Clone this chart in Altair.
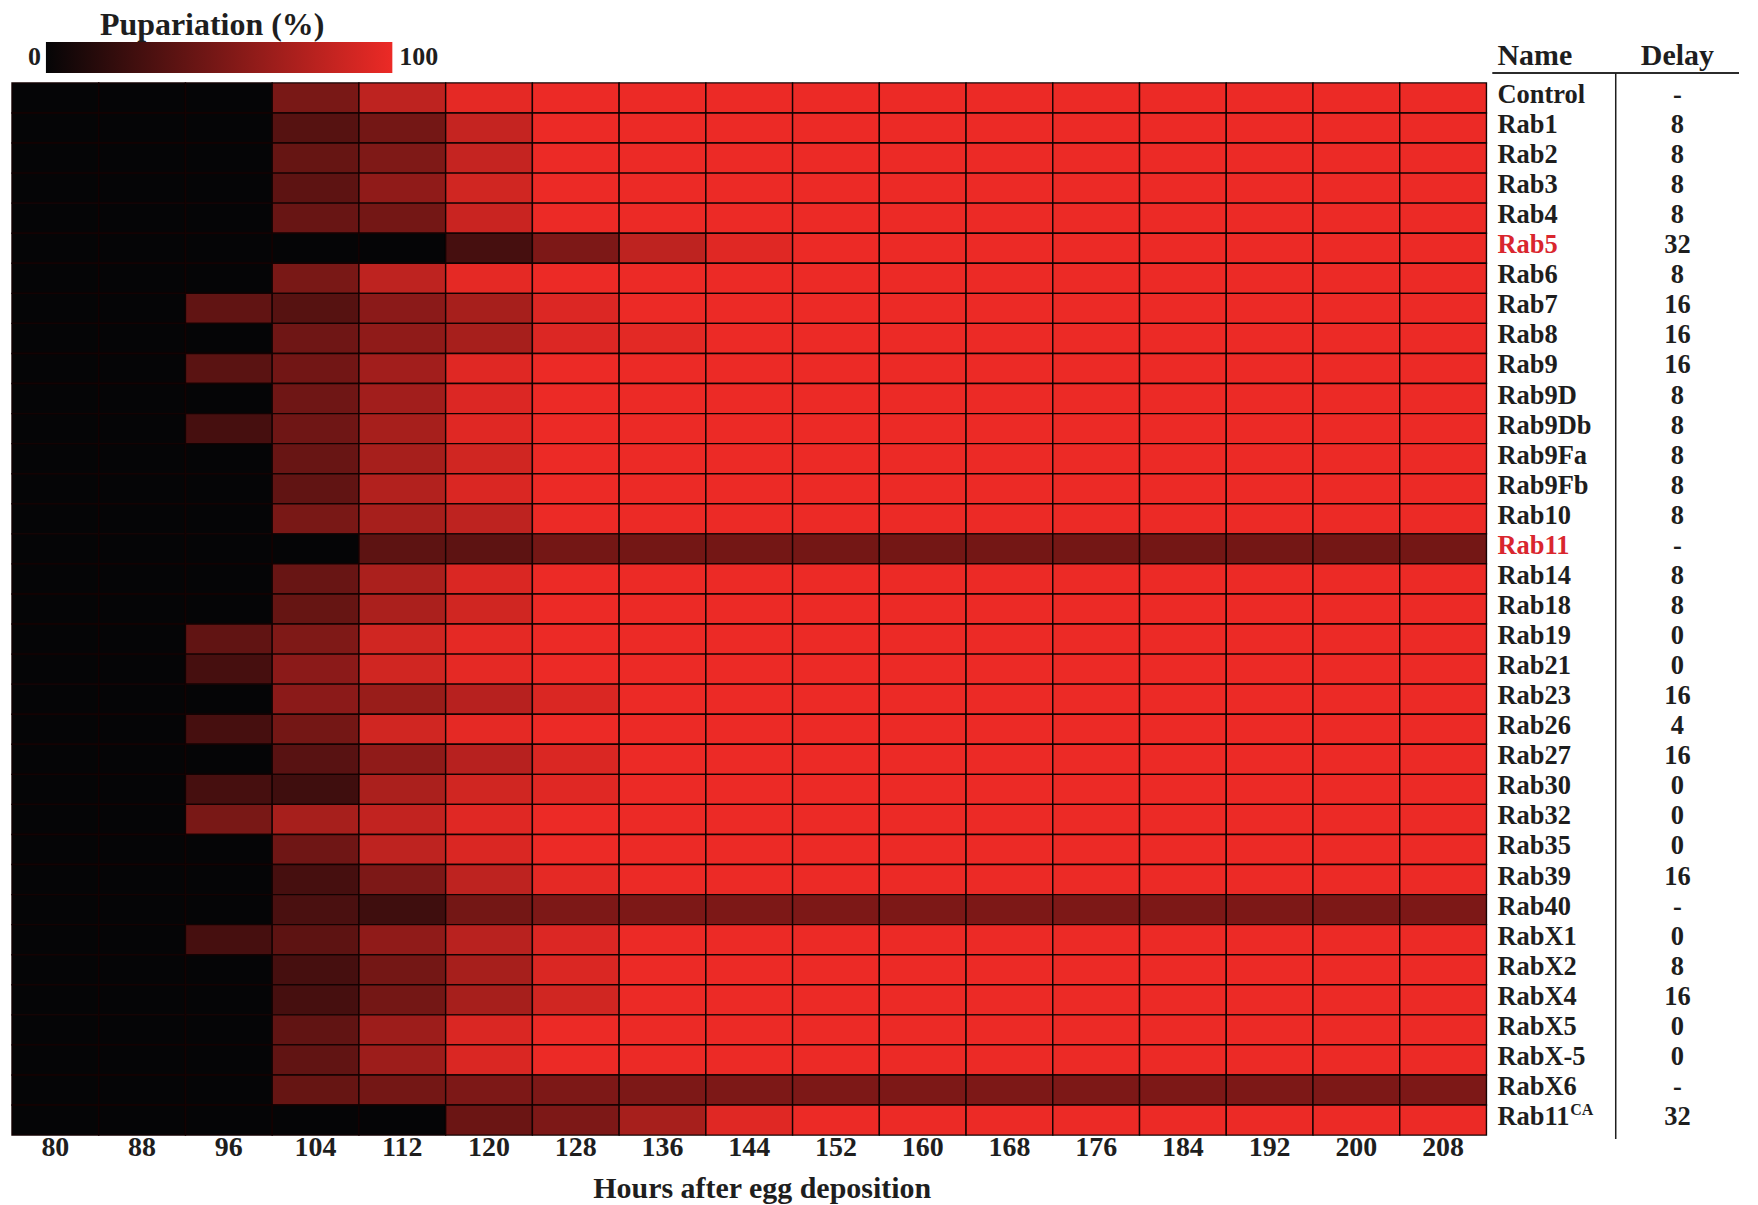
import altair as alt
import pandas as pd

# ---------------- data ----------------
hours = [80, 88, 96, 104, 112, 120, 128, 136, 144, 152, 160, 168, 176, 184, 192, 200, 208]

names = ["Control", "Rab1", "Rab2", "Rab3", "Rab4", "Rab5", "Rab6", "Rab7", "Rab8", "Rab9",
         "Rab9D", "Rab9Db", "Rab9Fa", "Rab9Fb", "Rab10", "Rab11", "Rab14", "Rab18", "Rab19",
         "Rab21", "Rab23", "Rab26", "Rab27", "Rab30", "Rab32", "Rab35", "Rab39", "Rab40",
         "RabX1", "RabX2", "RabX4", "RabX5", "RabX-5", "RabX6", "Rab11CA"]

delays = ["-", "8", "8", "8", "8", "32", "8", "16", "16", "16",
          "8", "8", "8", "8", "8", "-", "8", "8", "0",
          "0", "16", "4", "16", "0", "0", "0", "16", "-",
          "0", "8", "16", "0", "0", "-", "32"]

highlighted = ["Rab5", "Rab11"]
superscripts = {"Rab11CA": ("Rab11", "CA")}

# pupariation (%) per row, one value per hour column
values = [
    [0, 0, 0, 50, 80, 97, 100, 100, 100, 100, 100, 100, 100, 100, 100, 100, 100],  # Control
    [0, 0, 0, 35, 48, 83, 100, 100, 100, 100, 100, 100, 100, 100, 100, 100, 100],  # Rab1
    [0, 0, 0, 42, 53, 83, 100, 100, 100, 100, 100, 100, 100, 100, 100, 100, 100],  # Rab2
    [0, 0, 0, 38, 60, 88, 100, 100, 100, 100, 100, 100, 100, 100, 100, 100, 100],  # Rab3
    [0, 0, 0, 43, 48, 85, 100, 100, 100, 100, 100, 100, 100, 100, 100, 100, 100],  # Rab4
    [0, 0, 0, 0, 0, 28, 52, 80, 95, 100, 100, 100, 100, 100, 100, 100, 100],       # Rab5
    [0, 0, 0, 50, 80, 97, 100, 100, 100, 100, 100, 100, 100, 100, 100, 100, 100],  # Rab6
    [0, 0, 40, 35, 58, 70, 93, 100, 100, 100, 100, 100, 100, 100, 100, 100, 100],  # Rab7
    [0, 0, 0, 46, 60, 70, 93, 96, 100, 100, 100, 100, 100, 100, 100, 100, 100],    # Rab8
    [0, 0, 37, 47, 68, 95, 100, 100, 100, 100, 100, 100, 100, 100, 100, 100, 100], # Rab9
    [0, 0, 0, 46, 68, 93, 100, 100, 100, 100, 100, 100, 100, 100, 100, 100, 100],  # Rab9D
    [0, 0, 28, 46, 70, 95, 100, 100, 100, 100, 100, 100, 100, 100, 100, 100, 100], # Rab9Db
    [0, 0, 0, 43, 70, 88, 100, 100, 100, 100, 100, 100, 100, 100, 100, 100, 100],  # Rab9Fa
    [0, 0, 0, 40, 75, 92, 100, 100, 100, 100, 100, 100, 100, 100, 100, 100, 100],  # Rab9Fb
    [0, 0, 0, 50, 70, 80, 100, 100, 100, 100, 100, 100, 100, 100, 100, 100, 100],  # Rab10
    [0, 0, 0, 0, 38, 38, 48, 48, 48, 48, 48, 48, 48, 48, 48, 48, 48],              # Rab11
    [0, 0, 0, 43, 72, 92, 100, 100, 100, 100, 100, 100, 100, 100, 100, 100, 100],  # Rab14
    [0, 0, 0, 42, 72, 88, 100, 100, 100, 100, 100, 100, 100, 100, 100, 100, 100],  # Rab18
    [0, 0, 40, 53, 88, 97, 100, 100, 100, 100, 100, 100, 100, 100, 100, 100, 100], # Rab19
    [0, 0, 28, 58, 88, 97, 100, 100, 100, 100, 100, 100, 100, 100, 100, 100, 100], # Rab21
    [0, 0, 0, 58, 64, 77, 92, 100, 100, 100, 100, 100, 100, 100, 100, 100, 100],   # Rab23
    [0, 0, 28, 48, 88, 97, 100, 100, 100, 100, 100, 100, 100, 100, 100, 100, 100], # Rab26
    [0, 0, 0, 36, 60, 77, 92, 100, 100, 100, 100, 100, 100, 100, 100, 100, 100],   # Rab27
    [0, 0, 28, 25, 72, 88, 95, 100, 100, 100, 100, 100, 100, 100, 100, 100, 100],  # Rab30
    [0, 0, 50, 70, 82, 95, 100, 100, 100, 100, 100, 100, 100, 100, 100, 100, 100], # Rab32
    [0, 0, 0, 46, 80, 92, 100, 100, 100, 100, 100, 100, 100, 100, 100, 100, 100],  # Rab35
    [0, 0, 0, 28, 52, 80, 97, 100, 100, 100, 100, 100, 100, 100, 100, 100, 100],   # Rab39
    [0, 0, 0, 30, 25, 48, 52, 52, 52, 52, 52, 52, 52, 52, 52, 52, 52],             # Rab40
    [0, 0, 28, 38, 60, 78, 93, 100, 100, 100, 100, 100, 100, 100, 100, 100, 100],  # RabX1
    [0, 0, 0, 28, 48, 70, 92, 100, 100, 100, 100, 100, 100, 100, 100, 100, 100],   # RabX2
    [0, 0, 0, 28, 48, 70, 88, 100, 100, 100, 100, 100, 100, 100, 100, 100, 100],   # RabX4
    [0, 0, 0, 40, 66, 92, 100, 100, 100, 100, 100, 100, 100, 100, 100, 100, 100],  # RabX5
    [0, 0, 0, 40, 66, 92, 100, 100, 100, 100, 100, 100, 100, 100, 100, 100, 100],  # RabX-5
    [0, 0, 0, 42, 48, 52, 52, 52, 52, 52, 52, 52, 52, 52, 52, 52, 52],             # RabX6
    [0, 0, 0, 0, 0, 44, 52, 70, 95, 100, 100, 100, 100, 100, 100, 100, 100],       # Rab11CA
]

table_cols = ["Name", "Delay"]
legend_ticks = [0, 100]

# ---------------- styles ----------------
F = "Liberation Serif"
TC = "#1e1e1e"
HL = "#d9262e"
C0, C1 = "#050506", "#ec2a26"
ROW_FS = 26.5

# ---------------- frames ----------------
heat_rows = []
for n, vals in zip(names, values):
    for h, v in zip(hours, vals):
        heat_rows.append({"name": n, "hour": h, "value": v})
heat_df = pd.DataFrame(heat_rows)

tbl_rows = []
for n, d in zip(names, delays):
    lab, sup = superscripts.get(n, (n, ""))
    tbl_rows.append({"name": n, "col": "Name", "txt": lab, "sup": sup})
    tbl_rows.append({"name": n, "col": "Delay", "txt": d, "sup": ""})
tbl_df = pd.DataFrame(tbl_rows)
hdr_df = pd.DataFrame({"col": table_cols})

row_range = [10, 1064]

# ---------------- heatmap ----------------
heat = alt.Chart(heat_df).mark_rect(stroke="#140202", strokeWidth=1.4).encode(
    x=alt.X("hour:O", sort=hours,
            scale=alt.Scale(paddingInner=0, paddingOuter=0),
            axis=alt.Axis(orient="bottom", labelAngle=0, ticks=False, tickSize=0, domain=False,
                          labelFont=F, labelFontSize=28, labelFontWeight="bold", labelColor=TC,
                          labelPadding=-2, labelOverlap=False,
                          title="Hours after egg deposition", titleFont=F, titleFontSize=30,
                          titleFontWeight="bold", titleColor=TC, titlePadding=13, titleX=751)),
    y=alt.Y("name:N", sort=names,
            scale=alt.Scale(range=row_range, paddingInner=0, paddingOuter=0), axis=None),
    color=alt.Color("value:Q",
                    scale=alt.Scale(domain=[0, 100], range=[C0, C1], interpolate="rgb"),
                    legend=None),
).properties(width=1477, height=1064)

# ---------------- table ----------------
col_scale = alt.Scale(domain=table_cols, paddingInner=0, paddingOuter=0)
y_tbl = alt.Y("name:N", sort=names,
              scale=alt.Scale(range=row_range, paddingInner=0, paddingOuter=0), axis=None)

name_txt = alt.Chart(tbl_df).transform_filter(alt.datum.col == "Name").mark_text(
    align="left", baseline="middle", dx=5, dy=-3, font=F, fontSize=ROW_FS, fontWeight="bold"
).encode(
    x=alt.X("col:N", bandPosition=0, scale=col_scale, axis=None),
    y=y_tbl,
    text="txt:N",
    color=alt.condition(alt.FieldOneOfPredicate(field="name", oneOf=highlighted),
                        alt.value(HL), alt.value(TC)),
)

sup_txt = alt.Chart(tbl_df).transform_filter(alt.datum.sup != "").mark_text(
    align="left", baseline="middle", dx=78, dy=-10, font=F, fontSize=16, fontWeight="bold", color=TC
).encode(
    x=alt.X("col:N", bandPosition=0, axis=None),
    y=y_tbl,
    text="sup:N",
)

delay_txt = alt.Chart(tbl_df).transform_filter(alt.datum.col == "Delay").mark_text(
    align="center", baseline="middle", dy=-3, font=F, fontSize=ROW_FS, fontWeight="bold", color=TC
).encode(
    x=alt.X("col:N", axis=None),
    y=y_tbl,
    text="txt:N",
)

# column headers sit just above the table frame, on the same column scale
hdr_name = alt.Chart(hdr_df).transform_filter(alt.datum.col == table_cols[0]).mark_text(
    align="left", baseline="alphabetic", dx=5, dy=-8, font=F, fontSize=30, fontWeight="bold", color=TC
).encode(x=alt.X("col:N", bandPosition=0, axis=None), y=alt.value(0), text="col:N")

hdr_delay = alt.Chart(hdr_df).transform_filter(alt.datum.col == table_cols[1]).mark_text(
    align="center", baseline="alphabetic", dy=-8, font=F, fontSize=30, fontWeight="bold", color=TC
).encode(x=alt.X("col:N", axis=None), y=alt.value(0), text="col:N")

hdr_line = alt.Chart(hdr_df).mark_rule(color=TC, strokeWidth=1.5).encode(y=alt.value(0))

divider = alt.Chart(pd.DataFrame({"col": [table_cols[1]]})).mark_rule(
    color=TC, strokeWidth=1.5
).encode(x=alt.X("col:N", bandPosition=0, axis=None))

table = alt.layer(name_txt, sup_txt, delay_txt, hdr_name, hdr_delay, hdr_line, divider).properties(
    width=247, height=1068
)

# ---------------- colour legend ----------------
leg_scale = alt.Scale(domain=[legend_ticks[0], legend_ticks[-1]], range=[34, 381])
grad = alt.LinearGradient(
    gradient="linear",
    stops=[alt.GradientStop(color=C0, offset=0), alt.GradientStop(color=C1, offset=1)],
    x1=0, x2=1, y1=0, y2=0,
)
leg_bar = alt.Chart(pd.DataFrame({"lo": [legend_ticks[0]], "hi": [legend_ticks[-1]]})).mark_rect(
    color=grad
).encode(x=alt.X("lo:Q", scale=leg_scale, axis=None), x2="hi:Q")

leg_lo = alt.Chart(pd.DataFrame({"v": [legend_ticks[0]]})).mark_text(
    align="right", baseline="middle", dx=-5, font=F, fontSize=26, fontWeight="bold", color=TC
).encode(x=alt.X("v:Q", scale=leg_scale, axis=None), text="v:Q")

leg_hi = alt.Chart(pd.DataFrame({"v": [legend_ticks[-1]]})).mark_text(
    align="left", baseline="middle", dx=7, font=F, fontSize=26, fontWeight="bold", color=TC
).encode(x=alt.X("v:Q", scale=leg_scale, axis=None), text="v:Q")

legend = alt.layer(leg_bar, leg_lo, leg_hi).properties(
    width=381, height=31,
    title=alt.TitleParams("Pupariation (%)", font=F, fontSize=32, fontWeight="bold", color=TC,
                          anchor="middle", dx=10, offset=-25, baseline="alphabetic"),
)

main = alt.hconcat(heat, table, spacing=6, bounds="flush")
chart = alt.vconcat(legend, main, spacing=0, bounds="flush").properties(
    padding={"left": 3, "top": 0, "right": 10, "bottom": 6}
).configure_view(stroke=None)

chart.save("out.html", embed_options={"renderer": "svg", "actions": False})
